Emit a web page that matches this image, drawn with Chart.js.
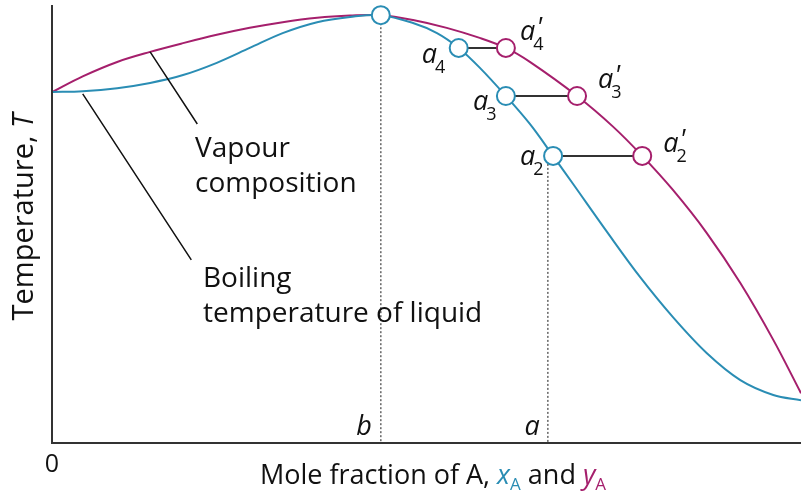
<!DOCTYPE html>
<html>
<head>
<meta charset="utf-8">
<script src="https://cdn.jsdelivr.net/npm/chart.js@4/dist/chart.umd.min.js"></script>
<style>
  html, body { margin: 0; padding: 0; background: #fff; }
  canvas { display: block; }
</style>
</head>
<body>
<canvas id="chart" width="801" height="497"></canvas>
<script>
// liquid (boiling temperature) curve, x_A vs T
const xLiquid = [0, 4.1, 8.7, 13.1, 17.5, 22.0, 26.4, 30.8, 35.4, 39.8, 43.9, 48.2, 51.4, 54.3, 57.1, 60.6, 63.8, 66.9, 69.6, 74.1, 78.5, 82.9, 87.4, 91.9, 96.3, 100];
const tLiquid = [80.3, 80.5, 81.2, 82.4, 84.2, 87.0, 90.4, 93.8, 96.3, 97.5, 97.9, 96.1, 93.8, 90.4, 85.9, 79.4, 73.0, 65.7, 59.2, 48.3, 38.0, 28.8, 20.6, 14.4, 11.0, 9.8];
// vapour composition curve, y_A vs T
const xVapour = [0, 4.1, 8.7, 13.1, 17.5, 22.0, 26.4, 30.8, 35.4, 39.8, 43.9, 48.2, 52.7, 57.1, 60.6, 63.8, 70.1, 74.9, 78.8, 82.9, 87.4, 91.9, 96.3, 100];
const tVapour = [80.3, 83.9, 87.2, 89.5, 91.5, 93.4, 95.0, 96.3, 97.3, 97.8, 97.9, 96.8, 95.0, 92.7, 90.4, 87.2, 79.4, 72.4, 65.7, 57.9, 48.1, 36.6, 23.6, 11.4];

// tie lines a4, a3, a2
const tieNames = ['4', '3', '2'];
const tieT = [90.4, 79.4, 65.7];
const tieXLiquid = [54.3, 60.6, 66.9];
const tieXVapour = [60.6, 70.1, 78.8];

// azeotrope b and composition a
const azeoX = 43.9, azeoT = 97.9;
const compA = 66.2;

const blue = '#2a8db4';
const pink = '#a51f6c';
const dark = '#333333';
const fontFam = '"Open Sans", sans-serif';

const pts = (xs, ys) => xs.map((x, i) => ({ x: x, y: ys[i] }));

const datasets = [];
// markers on top
datasets.push({
  data: [{ x: azeoX, y: azeoT }].concat(pts(tieXLiquid, tieT)),
  showLine: false, pointRadius: 9, pointBorderWidth: 2,
  pointBackgroundColor: '#fff', pointBorderColor: blue, order: 0, clip: false
});
datasets.push({
  data: pts(tieXVapour, tieT),
  showLine: false, pointRadius: 9, pointBorderWidth: 2,
  pointBackgroundColor: '#fff', pointBorderColor: pink, order: 0, clip: false
});
datasets.push({
  data: pts(xLiquid, tLiquid), showLine: true, borderColor: blue, borderWidth: 2,
  pointRadius: 0, tension: 0.35, order: 2
});
datasets.push({
  data: pts(xVapour, tVapour), showLine: true, borderColor: pink, borderWidth: 2,
  pointRadius: 0, tension: 0.35, order: 2
});
tieT.forEach((t, i) => {
  datasets.push({
    data: [{ x: tieXLiquid[i], y: t }, { x: tieXVapour[i], y: t }],
    showLine: true, borderColor: dark, borderWidth: 2, pointRadius: 0, order: 1
  });
});
// dotted verticals at b and a
datasets.push({
  data: [{ x: azeoX, y: azeoT }, { x: azeoX, y: 0 }],
  showLine: true, borderColor: '#666', borderWidth: 1.5, borderDash: [2, 2], pointRadius: 0, order: 3
});
datasets.push({
  data: [{ x: compA, y: tieT[2] }, { x: compA, y: 0 }],
  showLine: true, borderColor: '#666', borderWidth: 1.5, borderDash: [2, 2], pointRadius: 0, order: 3
});

function drawLabelA(ctx, x, y, sub, prime) {
  ctx.fillStyle = '#111';
  ctx.textAlign = 'left';
  ctx.textBaseline = 'alphabetic';
  ctx.font = 'italic 27px ' + fontFam;
  ctx.fillText('a', x, y);
  const w = ctx.measureText('a').width;
  if (prime) {
    ctx.font = 'italic 27px ' + fontFam;
    ctx.fillText("'", x + w + 1, y - 3);
  }
  ctx.font = '18px ' + fontFam;
  ctx.fillText(sub, x + w - 2, y + 10);
}

const decor = {
  id: 'decor',
  afterDatasetsDraw(chart) {
    const ctx = chart.ctx;
    const xs = chart.scales.x, ys = chart.scales.y;
    const a = chart.chartArea;
    const px = v => xs.getPixelForValue(v);
    const py = v => ys.getPixelForValue(v);
    ctx.save();
    // axes
    ctx.strokeStyle = dark;
    ctx.lineWidth = 2;
    ctx.beginPath();
    ctx.moveTo(a.left, a.top - 1);
    ctx.lineTo(a.left, a.bottom);
    ctx.lineTo(a.right, a.bottom);
    ctx.stroke();

    // leader lines
    ctx.strokeStyle = '#111';
    ctx.lineWidth = 1.5;
    ctx.beginPath();
    ctx.moveTo(px(13.1), py(89.5));
    ctx.lineTo(px(19.4), py(73.0));
    ctx.moveTo(px(4.1), py(79.9));
    ctx.lineTo(px(18.6), py(41.9));
    ctx.stroke();

    // annotations
    ctx.fillStyle = '#111';
    ctx.textAlign = 'left';
    ctx.textBaseline = 'alphabetic';
    ctx.font = '28px ' + fontFam;
    ctx.fillText('Vapour', 195, 157);
    ctx.fillText('composition', 195, 192);
    ctx.fillText('Boiling', 203, 287);
    ctx.fillText('temperature of liquid', 203, 322);

    // tie labels
    const offL = [[-37, 15], [-33, 14], [-33, 9]];
    const offV = [[14, -8], [21, -8], [21, -4]];
    tieT.forEach((t, i) => {
      drawLabelA(ctx, px(tieXLiquid[i]) + offL[i][0], py(t) + offL[i][1], tieNames[i], false);
      drawLabelA(ctx, px(tieXVapour[i]) + offV[i][0], py(t) + offV[i][1], tieNames[i], true);
    });

    // b and a on the axis
    ctx.fillStyle = '#111';
    ctx.font = 'italic 27px ' + fontFam;
    ctx.textAlign = 'right';
    ctx.fillText('b', px(azeoX) - 9, a.bottom - 8);
    ctx.fillText('a', px(compA) - 8, a.bottom - 8);

    // 0
    ctx.textAlign = 'center';
    ctx.font = '25px ' + fontFam;
    ctx.fillText('0', a.left, 472);

    // x title with coloured x_A and y_A
    const parts = [
      ['Mole fraction of A, ', '27px ', '#111', 0],
      ['x', 'italic 27px ', blue, 0],
      ['A', '17px ', blue, 6],
      [' and ', '27px ', '#111', 0],
      ['y', 'italic 27px ', pink, 0],
      ['A', '17px ', pink, 6]
    ];
    let total = 0;
    parts.forEach(p => { ctx.font = p[1] + fontFam; total += ctx.measureText(p[0]).width; });
    let cx = 433 - total / 2;
    ctx.textAlign = 'left';
    parts.forEach(p => {
      ctx.font = p[1] + fontFam;
      ctx.fillStyle = p[2];
      ctx.fillText(p[0], cx, 484 + p[3]);
      cx += ctx.measureText(p[0]).width;
    });

    // y title
    ctx.save();
    ctx.translate(33, 217);
    ctx.rotate(-Math.PI / 2);
    ctx.fillStyle = '#111';
    const t1 = 'Temperature, ';
    ctx.font = 'italic 29px ' + fontFam;
    const wT = ctx.measureText('T').width;
    ctx.font = '29px ' + fontFam;
    const w1 = ctx.measureText(t1).width;
    ctx.textAlign = 'left';
    ctx.fillText(t1, -(w1 + wT) / 2, 0);
    ctx.font = 'italic 29px ' + fontFam;
    ctx.fillText('T', -(w1 + wT) / 2 + w1, 0);
    ctx.restore();

    ctx.restore();
  }
};

new Chart(document.getElementById('chart'), {
  type: 'scatter',
  data: { datasets: datasets },
  options: {
    responsive: false,
    animation: false,
    layout: { autoPadding: false, padding: { left: 52, right: 0, top: 6, bottom: 54 } },
    plugins: { legend: { display: false }, tooltip: { enabled: false } },
    scales: {
      x: { type: 'linear', min: 0, max: 100, display: false },
      y: { type: 'linear', min: 0, max: 100, display: false }
    }
  },
  plugins: [decor]
});
</script>
</body>
</html>
